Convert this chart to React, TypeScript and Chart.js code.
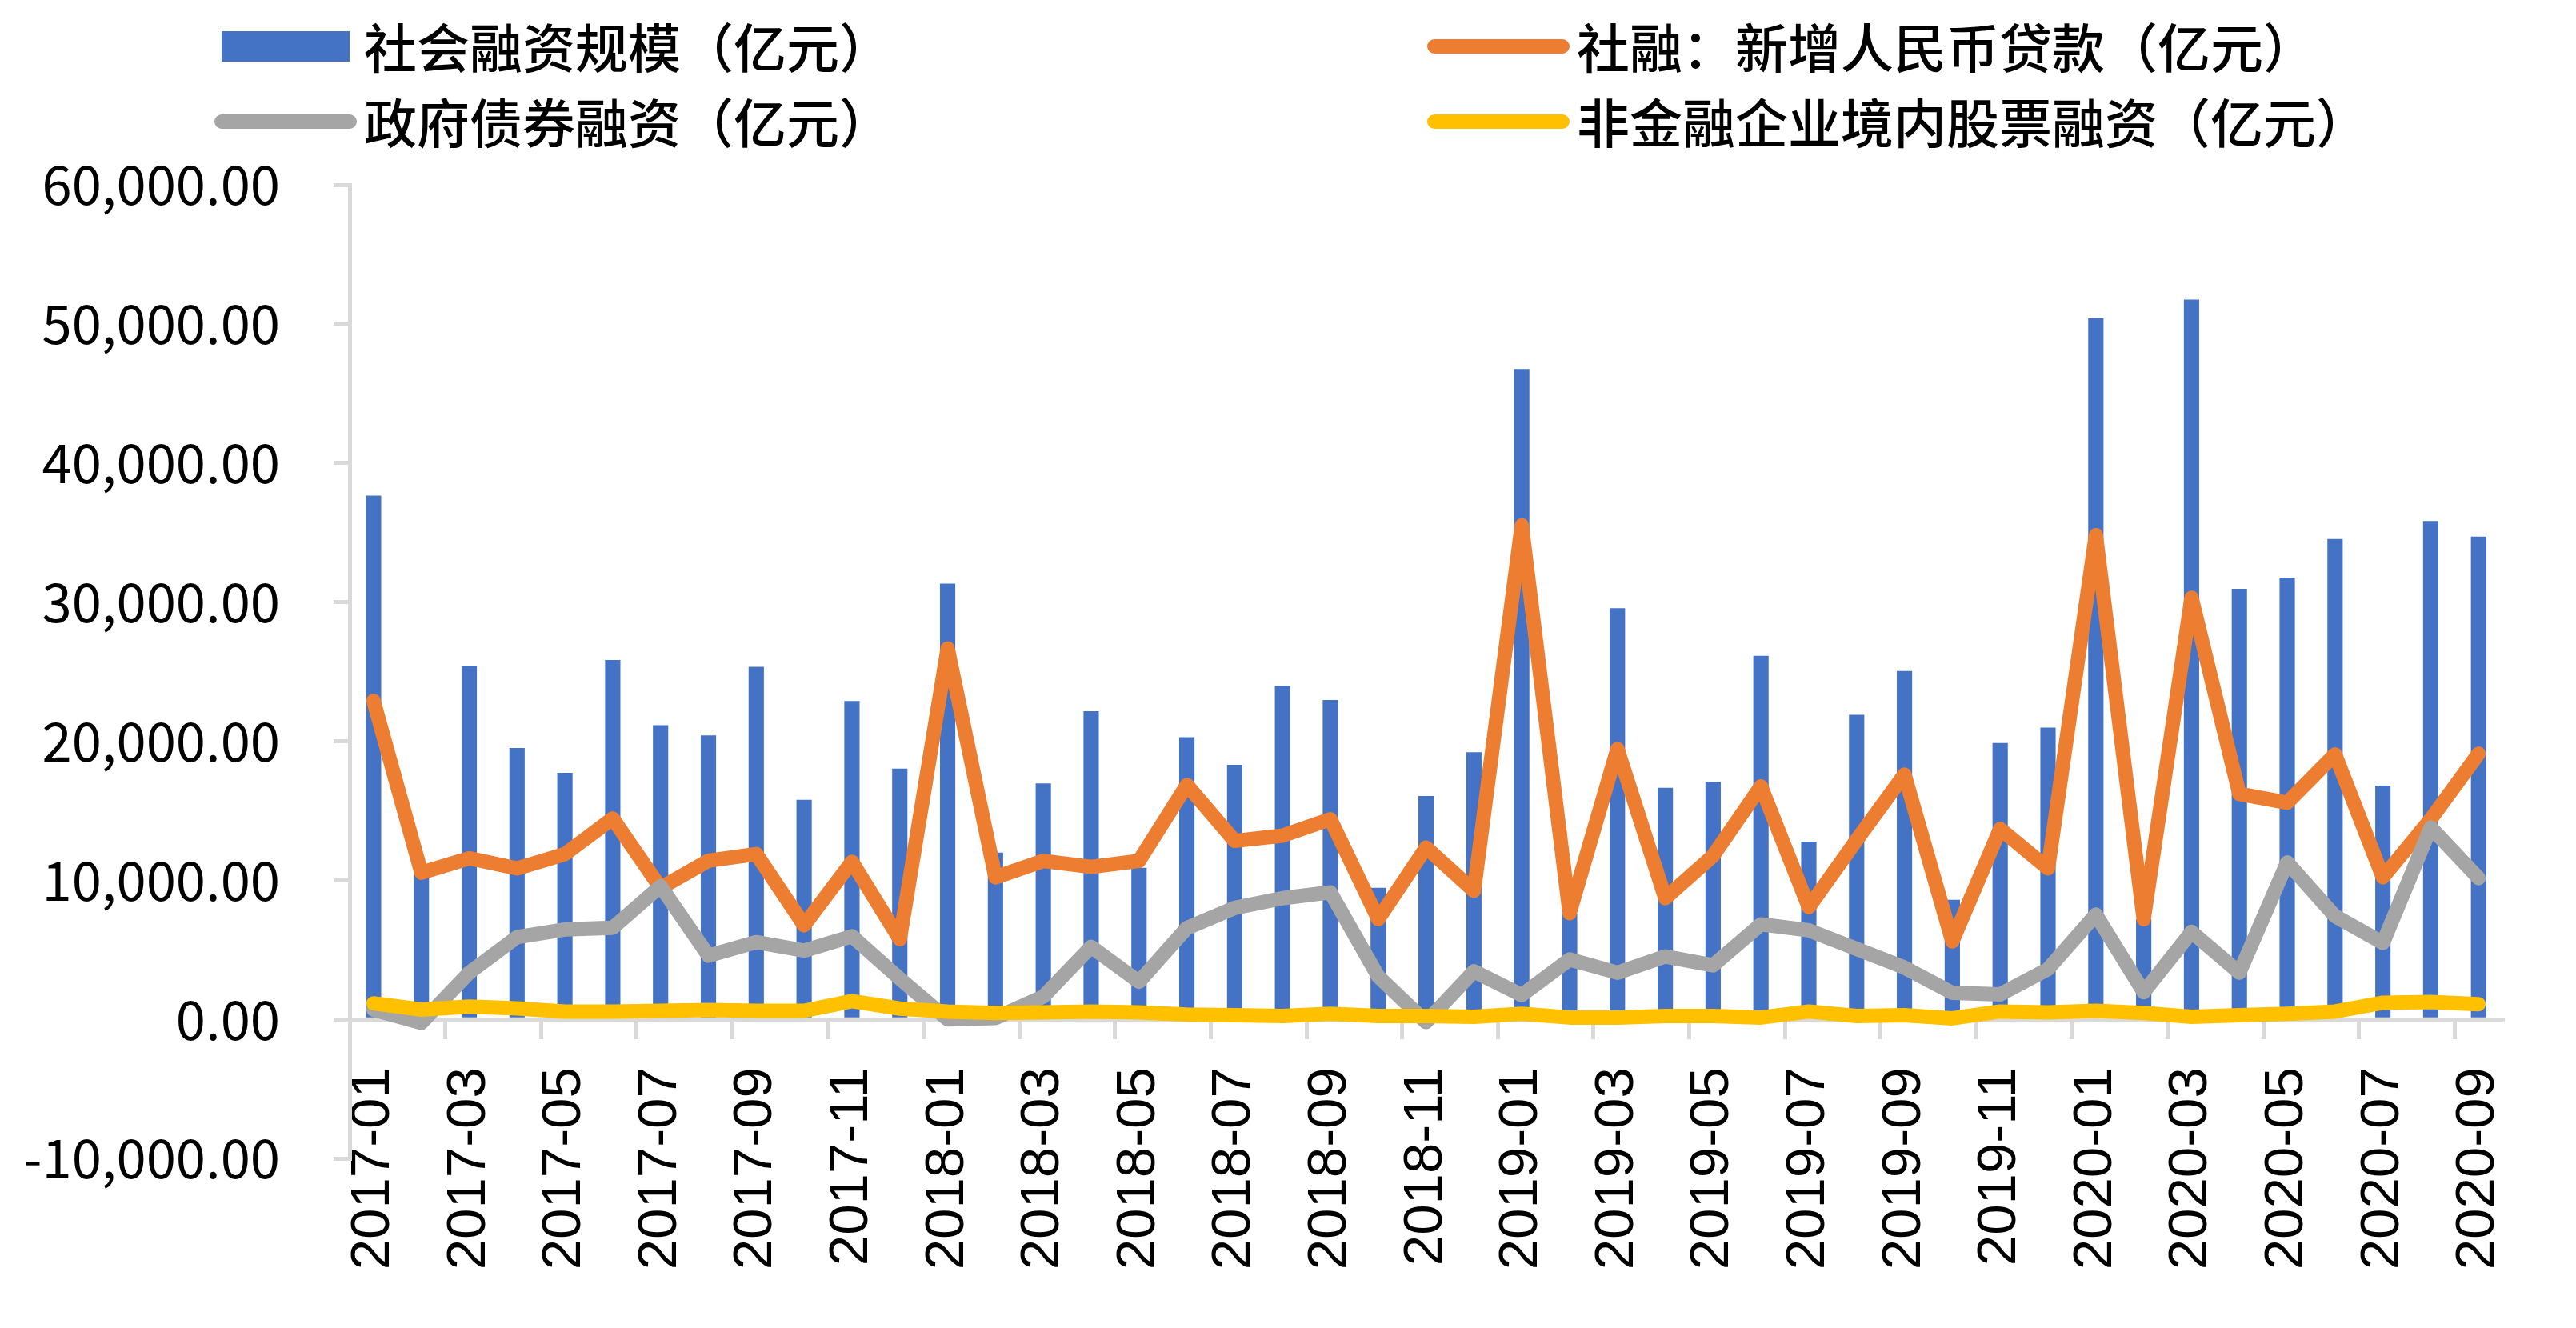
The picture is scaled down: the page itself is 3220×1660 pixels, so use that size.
import React, { useEffect, useRef } from 'react';
import { Chart, registerables } from 'chart.js';

Chart.register(...registerables);

const categories = [
  '2017-01', '2017-02', '2017-03', '2017-04', '2017-05', '2017-06', '2017-07', '2017-08', '2017-09', '2017-10', '2017-11', '2017-12',
  '2018-01', '2018-02', '2018-03', '2018-04', '2018-05', '2018-06', '2018-07', '2018-08', '2018-09', '2018-10', '2018-11', '2018-12',
  '2019-01', '2019-02', '2019-03', '2019-04', '2019-05', '2019-06', '2019-07', '2019-08', '2019-09', '2019-10', '2019-11', '2019-12',
  '2020-01', '2020-02', '2020-03', '2020-04', '2020-05', '2020-06', '2020-07', '2020-08', '2020-09',
];

const tsfValues = [
  37660, 10800, 25410, 19500, 17730, 25840, 21150, 20410, 25350, 15780, 22890, 18030,
  31330, 11980, 16960, 22160, 10900, 20280, 18300, 23980, 22960, 9460, 16050, 19210,
  46760, 7600, 29560, 16640, 17070, 26130, 12780, 21890, 25050, 8600, 19860, 20980,
  50410, 7200, 51750, 30950, 31760, 34540, 16800, 35830, 34700,
];

const loanValues = [
  22900, 10540, 11580, 10850, 11880, 14440, 9450, 11400, 11880, 6760, 11330, 5760,
  26660, 10210, 11390, 10960, 11390, 16850, 12830, 13210, 14390, 7200, 12350, 9240,
  35510, 7630, 19430, 8710, 11760, 16750, 8060, 12890, 17600, 5600, 13690, 10850,
  34810, 7200, 30310, 16210, 15570, 19050, 10210, 14390, 19100,
];

const govBondValues = [
  700, -250, 3350, 5910, 6460, 6580, 9570, 4570, 5550, 4940, 5970, 2920,
  0, 100, 1630, 5220, 2700, 6560, 8010, 8710, 9130, 3080, -200, 3450,
  1740, 4310, 3350, 4520, 3880, 6830, 6400, 5060, 3720, 1900, 1790, 3610,
  7530, 1950, 6290, 3350, 11280, 7420, 5490, 13800, 10150,
];

const equityValues = [
  1150, 700, 910, 790, 550, 550, 610, 670, 610, 610, 1310, 770,
  560, 450, 500, 560, 500, 340, 290, 240, 400, 240, 240, 180,
  400, 130, 130, 240, 240, 130, 560, 240, 290, 70, 560, 500,
  610, 450, 180, 290, 400, 560, 1190, 1250, 1090,
];

const seriesLabels = [
  '社会融资规模（亿元）',
  '社融：新增人民币贷款（亿元）',
  '政府债券融资（亿元）',
  '非金融企业境内股票融资（亿元）',
];

const seriesColors = ['#4472C4', '#ED7D31', '#A5A5A5', '#FFC000'];

const yMin = -10000;
const yMax = 60000;
const yStep = 10000;

const AXIS_COLOR = '#D9D9D9';

const legendPlugin = {
  id: 'customLegend',
  afterDraw(chart: any) {
    const ctx = chart.ctx as CanvasRenderingContext2D;
    const slots = [
      { ds: 0, x: 277, y: 58 },
      { ds: 1, x: 1793, y: 58 },
      { ds: 2, x: 277, y: 152 },
      { ds: 3, x: 1793, y: 152 },
    ];
    const markerW = 160;
    ctx.save();
    slots.forEach((s) => {
      const ds = chart.data.datasets[s.ds];
      const color = ds.type === 'line' ? ds.borderColor : ds.backgroundColor;
      if (ds.type === 'line') {
        ctx.strokeStyle = color;
        ctx.lineWidth = 18;
        ctx.lineCap = 'round';
        ctx.beginPath();
        ctx.moveTo(s.x, s.y);
        ctx.lineTo(s.x + markerW, s.y);
        ctx.stroke();
      } else {
        ctx.fillStyle = color;
        ctx.fillRect(s.x, s.y - 19, markerW, 38);
      }
      ctx.fillStyle = '#000000';
      ctx.font = '500 66px "Noto Sans CJK SC"';
      ctx.textBaseline = 'middle';
      ctx.textAlign = 'left';
      ctx.fillText(ds.label, s.x + markerW + 18, s.y + 2);
    });
    ctx.restore();
  },
};

export default function App() {
  const canvasRef = useRef<HTMLCanvasElement | null>(null);

  useEffect(() => {
    const canvas = canvasRef.current;
    if (!canvas) return;
    const lineCommon = {
      type: 'line' as const,
      borderWidth: 18,
      pointRadius: 0,
      pointHoverRadius: 0,
      tension: 0,
      borderCapStyle: 'round' as const,
      borderJoinStyle: 'round' as const,
      fill: false,
    };
    const chart = new Chart(canvas, {
      type: 'bar',
      data: {
        labels: categories,
        datasets: [
          {
            type: 'bar',
            label: seriesLabels[0],
            data: tsfValues,
            backgroundColor: seriesColors[0],
            borderWidth: 0,
            barPercentage: 1,
            categoryPercentage: 0.32,
            order: 4,
          },
          { ...lineCommon, label: seriesLabels[1], data: loanValues, borderColor: seriesColors[1], backgroundColor: seriesColors[1], order: 3 },
          { ...lineCommon, label: seriesLabels[2], data: govBondValues, borderColor: seriesColors[2], backgroundColor: seriesColors[2], order: 2 },
          { ...lineCommon, label: seriesLabels[3], data: equityValues, borderColor: seriesColors[3], backgroundColor: seriesColors[3], order: 1 },
        ] as any,
      },
      options: {
        responsive: false,
        animation: false,
        devicePixelRatio: 1,
        layout: { padding: { top: 231, bottom: 212, left: 0, right: 87 } },
        plugins: {
          legend: { display: false },
          tooltip: { enabled: false },
          title: { display: false },
        },
        scales: {
          x: {
            type: 'category',
            position: { y: 0 } as any,
            offset: true,
            grid: {
              display: true,
              offset: true,
              drawOnChartArea: false,
              drawTicks: true,
              tickLength: 22,
              lineWidth: 5,
              color: (ctx: any) =>
                ctx.type === 'tick' && ctx.index % 2 === 0 ? AXIS_COLOR : 'rgba(0,0,0,0)',
            },
            border: { display: true, color: AXIS_COLOR, width: 5 },
            ticks: {
              autoSkip: false,
              maxRotation: 90,
              minRotation: 90,
              padding: 38,
              color: '#000000',
              font: { family: '"Liberation Sans", Arial, sans-serif', size: 69 },
              callback: (_v: any, index: number) => (index % 2 === 0 ? categories[index] : ''),
            },
          },
          y: {
            type: 'linear',
            min: yMin,
            max: yMax,
            afterFit: (scale: any) => {
              scale.width = 437;
            },
            grid: {
              display: true,
              drawOnChartArea: false,
              drawTicks: true,
              tickLength: 20,
              lineWidth: 5,
              color: AXIS_COLOR,
            },
            border: { display: true, color: AXIS_COLOR, width: 5 },
            ticks: {
              stepSize: yStep,
              padding: 67,
              color: '#000000',
              font: { family: '"Noto Sans CJK SC", sans-serif', size: 67 },
              callback: (v: any) =>
                Number(v).toLocaleString('en-US', { minimumFractionDigits: 2, maximumFractionDigits: 2 }),
            },
          },
        },
      },
      plugins: [legendPlugin],
    });
    return () => {
      chart.destroy();
    };
  }, []);

  return (
    <canvas
      ref={canvasRef}
      width={3220}
      height={1660}
      style={{ position: 'absolute', left: 0, top: 0, width: 3220, height: 1660, background: '#ffffff' }}
    />
  );
}
